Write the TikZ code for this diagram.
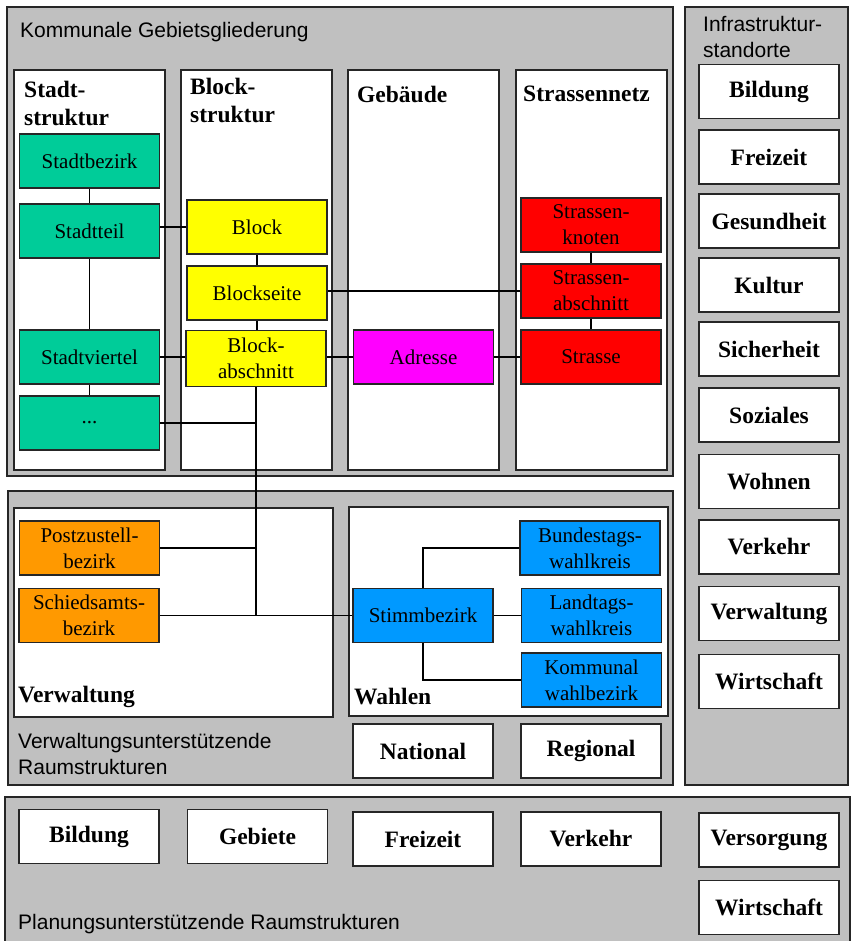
\documentclass[tikz,border=0pt]{standalone}
\usepackage{fontspec}
\setmainfont{Liberation Serif}
\setsansfont{Liberation Sans}
\definecolor{areagrey}{HTML}{C0C0C0}
\definecolor{stadtgreen}{HTML}{00CC99}
\definecolor{blockyellow}{HTML}{FFFF00}
\definecolor{adrmagenta}{HTML}{FF00FF}
\definecolor{strred}{HTML}{FF0000}
\definecolor{verworange}{HTML}{FF9900}
\definecolor{wahlblue}{HTML}{0099FF}
\begin{document}
\begin{tikzpicture}[x=1pt,y=-1pt,
  area/.style={draw=black!85,line width=2pt,fill=areagrey},
  panel/.style={draw=black!85,line width=2pt,fill=white},
  item/.style={draw=black!85,line width=1.8pt,minimum width=140,minimum height=54,inner sep=1pt,align=center,font=\fontsize{21}{26}\selectfont},
  green/.style={item,fill=stadtgreen},
  yellow/.style={item,fill=blockyellow},
  pink/.style={item,fill=adrmagenta},
  redbox/.style={item,fill=strred},
  orange/.style={item,fill=verworange},
  blue/.style={item,fill=wahlblue},
  topic/.style={draw=black!85,line width=1.8pt,fill=white,minimum width=140,minimum height=54,inner sep=1pt,font=\bfseries\fontsize{23.5}{28}\selectfont},
  heading/.style={anchor=west,inner sep=0pt,align=left,font=\bfseries\fontsize{23.5}{28}\selectfont},
  caption/.style={anchor=west,inner sep=0pt,align=left,font=\sffamily\fontsize{21}{26}\selectfont},
  link/.style={line width=1.6pt}]
\useasboundingbox (0,0) rectangle (852,941);
\clip (0,0) rectangle (852,941);
\draw[area] (7,7) rectangle (673,476);
\draw[panel] (14,70) rectangle (165,470);
\draw[panel] (181,70) rectangle (332,470);
\draw[panel] (348,70) rectangle (499,470);
\draw[panel] (516,70) rectangle (667,470);
\draw[area] (685,7) rectangle (848,785);
\draw[area] (8,491) rectangle (673,785);
\draw[panel] (14,508) rectangle (333,717);
\draw[panel] (349,507) rectangle (668,716);
\draw[area] (5,797) rectangle (850,960);
\node[caption] (kommunal-title) at (20,32) {Kommunale Gebietsgliederung};
\node[caption] (infra-title) at (703,37) {Infrastruktur-\\standorte};
\node[caption] (verw-title) at (18,754) {Verwaltungsunterst\"utzende\\Raumstrukturen};
\node[caption] (plan-title) at (18,924) {Planungsunterst\"utzende Raumstrukturen};
\node[heading] (stadt-head) at (24,103) {Stadt-\\struktur};
\node[heading] (block-head) at (190,100) {Block-\\struktur};
\node[heading] (geb-head) at (357,94) {Geb\"aude};
\node[heading] (str-head) at (523,94) {Strassennetz};
\node[heading] (verw-head) at (18,697) {Verwaltung};
\node[heading] (wahl-head) at (354,697) {Wahlen};
\node[green] (stadtbezirk) at (89.5,161) {Stadtbezirk};
\node[green] (stadtteil) at (89.5,231) {Stadtteil};
\node[green] (stadtviertel) at (89.5,357) {Stadtviertel};
\node[green] (dots) at (89.5,423) {...};
\node[yellow] (block) at (257,227) {Block};
\node[yellow] (blockseite) at (257,293) {Blockseite};
\node[yellow,minimum height=56] (blockabschnitt) at (256,358.5) {Block-\\abschnitt};
\node[pink] (adresse) at (423.5,357) {Adresse};
\node[redbox] (knoten) at (591,225) {Strassen-\\knoten};
\node[redbox] (strabschnitt) at (591,291) {Strassen-\\abschnitt};
\node[redbox] (strasse) at (591,357) {Strasse};
\node[orange] (postzustell) at (89.5,548) {Postzustell-\\bezirk};
\node[orange] (schiedsamt) at (89,615.5) {Schiedsamts-\\bezirk};
\node[blue] (stimmbezirk) at (423,615.5) {Stimmbezirk};
\node[blue] (bundestag) at (590,548) {Bundestags-\\wahlkreis};
\node[blue] (landtag) at (591.5,615.5) {Landtags-\\wahlkreis};
\node[blue] (kommunalwahl) at (591.5,680) {Kommunal\\wahlbezirk};
\node[topic] (national) at (423,751) {National};
\node[topic] (regional) at (591,751) {Regional};
\node[topic] (r-bildung) at (769,91.5) {Bildung};
\node[topic] (r-freizeit) at (769,157) {Freizeit};
\node[topic] (r-gesundheit) at (769,221) {Gesundheit};
\node[topic] (r-kultur) at (769,285) {Kultur};
\node[topic] (r-sicherheit) at (769,349) {Sicherheit};
\node[topic] (r-soziales) at (769,415) {Soziales};
\node[topic] (r-wohnen) at (769,481.5) {Wohnen};
\node[topic] (r-verkehr) at (769,547) {Verkehr};
\node[topic] (r-verwaltung) at (769,613.5) {Verwaltung};
\node[topic] (r-wirtschaft) at (769,681.5) {Wirtschaft};
\node[topic] (p-bildung) at (89,836.5) {Bildung};
\node[topic] (p-gebiete) at (257.5,836.5) {Gebiete};
\node[topic] (p-freizeit) at (423,839) {Freizeit};
\node[topic] (p-verkehr) at (591,839) {Verkehr};
\node[topic] (p-versorgung) at (769,840) {Versorgung};
\node[topic] (p-wirtschaft) at (769,907.5) {Wirtschaft};
\draw[link] (stadtbezirk) -- (stadtteil);
\draw[link] (stadtteil) -- (stadtviertel);
\draw[link] (stadtviertel) -- (dots);
\draw[link] (block.west) -- (block.west -| stadtteil.east);
\draw[link] (stadtviertel.east) -- (stadtviertel.east -| blockabschnitt.west);
\draw[link] (block.south) -- (block.south |- blockseite.north);
\draw[link] (blockseite.south) -- (blockseite.south |- blockabschnitt.north);
\draw[link] (strabschnitt.west) -- (strabschnitt.west -| blockseite.east);
\draw[link] (adresse.west) -- (adresse.west -| blockabschnitt.east);
\draw[link] (adresse.east) -- (adresse.east -| strasse.west);
\draw[link] (knoten) -- (strabschnitt);
\draw[link] (strabschnitt) -- (strasse);
\draw[link] (blockabschnitt.south) -- (blockabschnitt.south |- schiedsamt.east);
\draw[link] (dots.east) -- (dots.east -| blockabschnitt.south);
\draw[link] (postzustell.east) -- (postzustell.east -| blockabschnitt.south);
\draw[link] (schiedsamt.east) -- (stimmbezirk.west);
\draw[link] (stimmbezirk.north) |- (bundestag.west);
\draw[link] (stimmbezirk.east) -- (landtag.west);
\draw[link] (stimmbezirk.south) |- (kommunalwahl.west);
\end{tikzpicture}
\end{document}
